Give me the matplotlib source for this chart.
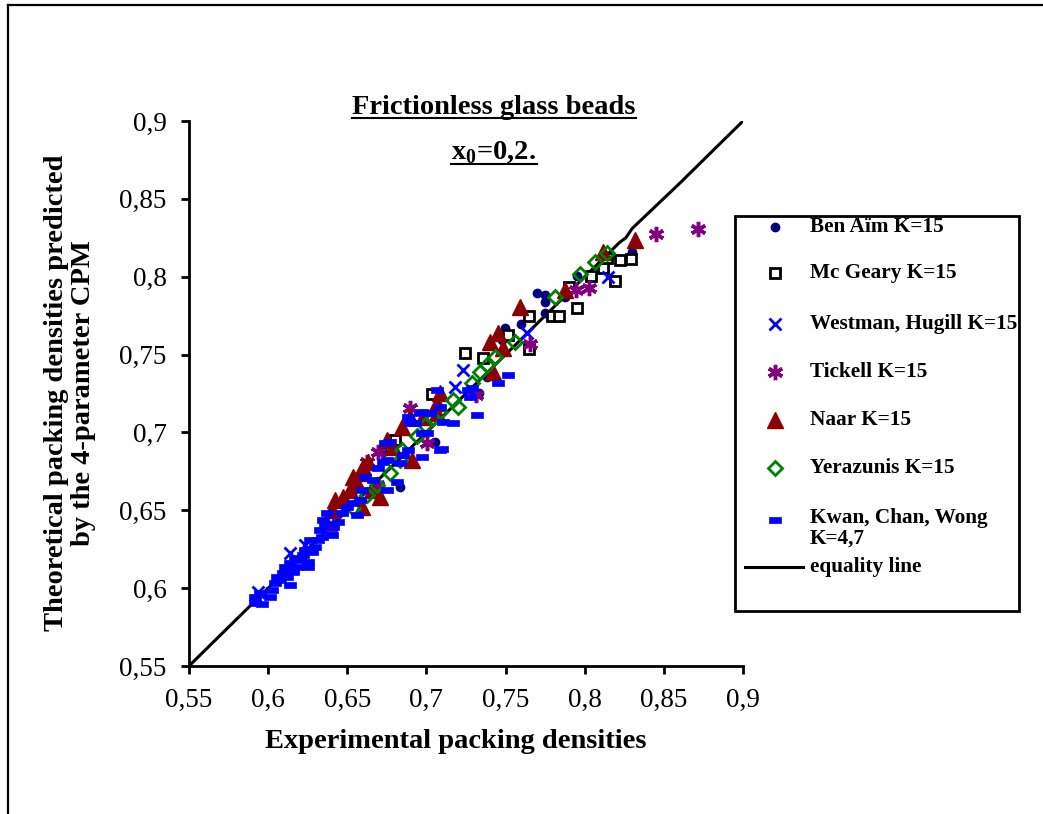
import matplotlib
matplotlib.use("Agg")
import matplotlib.pyplot as plt
from matplotlib.lines import Line2D
from matplotlib.patches import Rectangle

plt.rcParams['font.family'] = ['Liberation Serif', 'DejaVu Serif']
plt.rcParams['mathtext.fontset'] = 'custom'
plt.rcParams['mathtext.rm'] = 'Liberation Serif'
plt.rcParams['mathtext.bf'] = 'Liberation Serif:bold'

# --- data (experimental, theoretical) ---
ben_x = [0.6726, 0.6834, 0.7055, 0.7333, 0.7383, 0.7478, 0.7497, 0.7598, 0.7699, 0.7750,
         0.7750, 0.7750, 0.7876, 0.7952, 0.8237, 0.8300]
ben_y = [0.6874, 0.6649, 0.6938, 0.7253, 0.7355, 0.7593, 0.7670, 0.7696, 0.7895, 0.7882,
         0.7837, 0.7766, 0.7869, 0.8004, 0.8107, 0.8158]

mcg_x = [0.6802, 0.7036, 0.7244, 0.7358, 0.7516, 0.7649, 0.7649, 0.7794, 0.7838, 0.7952,
         0.7902, 0.8041, 0.8116, 0.8142, 0.8192, 0.8224, 0.8293]
mcg_y = [0.6951, 0.7246, 0.7509, 0.7477, 0.7625, 0.7747, 0.7535, 0.7747, 0.7747, 0.7798,
         0.7933, 0.8004, 0.8055, 0.8119, 0.7972, 0.8107, 0.8113]

west_x = [0.5936, 0.6138, 0.6233, 0.7181, 0.7232, 0.7636, 0.8148]
west_y = [0.5975, 0.6225, 0.6277, 0.7291, 0.7400, 0.7638, 0.7997]

tick_x = [0.6391, 0.6625, 0.6694, 0.6688, 0.6897, 0.7004, 0.7314, 0.7655, 0.7946, 0.8028,
          0.8451, 0.8717]
tick_y = [0.6386, 0.6810, 0.6874, 0.6662, 0.7156, 0.6932, 0.7240, 0.7567, 0.7914, 0.7927,
          0.8273, 0.8306]

naar_x = [0.6404, 0.6423, 0.6473, 0.6518, 0.6562, 0.6536, 0.6581, 0.6600, 0.6631, 0.6657,
          0.6593, 0.6707, 0.6751, 0.6789, 0.6909, 0.6846, 0.6897, 0.6979, 0.7067, 0.7086,
          0.7067, 0.7402, 0.7453, 0.7484, 0.7592, 0.7421, 0.7876, 0.8116, 0.8319]
naar_y = [0.6502, 0.6566, 0.6585, 0.6630, 0.6675, 0.6713, 0.6739, 0.6778, 0.6810, 0.6630,
          0.6521, 0.6585, 0.6951, 0.6906, 0.6823, 0.7034, 0.7099, 0.7099, 0.7124, 0.7253,
          0.7188, 0.7580, 0.7638, 0.7542, 0.7805, 0.7387, 0.7914, 0.8158, 0.8235]

yer_x = [0.6536, 0.6625, 0.6688, 0.6770, 0.6834, 0.6846, 0.6941, 0.6992, 0.7042, 0.7086,
         0.7168, 0.7200, 0.7289, 0.7339, 0.7383, 0.7434, 0.7560, 0.7813, 0.7971, 0.8066,
         0.8142]
yer_y = [0.6514, 0.6598, 0.6662, 0.6739, 0.6823, 0.6887, 0.6977, 0.7047, 0.7092, 0.7131,
         0.7208, 0.7163, 0.7317, 0.7387, 0.7432, 0.7484, 0.7580, 0.7869, 0.8017, 0.8094,
         0.8151]

kwan_x = [0.5917, 0.5961, 0.5917, 0.5949, 0.6012, 0.6025, 0.6044, 0.6075, 0.6056, 0.6094,
          0.6119, 0.6138, 0.6157, 0.6107, 0.6138, 0.6183, 0.6170, 0.6202, 0.6220, 0.6252,
          0.6252, 0.6233, 0.6277, 0.6296, 0.6265, 0.6315, 0.6341, 0.6328, 0.6360, 0.6347,
          0.6372, 0.6404, 0.6410, 0.6442, 0.6467, 0.6499, 0.6562, 0.6536, 0.6581, 0.6593,
          0.6612, 0.6663, 0.6694, 0.6726, 0.6751, 0.6739, 0.6770, 0.6751, 0.6815, 0.6834,
          0.6852, 0.6884, 0.6897, 0.6960, 0.7004, 0.7023, 0.7067, 0.7086, 0.7086, 0.7168,
          0.6973, 0.6884, 0.6928, 0.6973, 0.7105, 0.7263, 0.7276, 0.7320, 0.7453, 0.7516,
          0.7289, 0.7099, 0.6973]
kwan_y = [0.5904, 0.5898, 0.5943, 0.5969, 0.5943, 0.5988, 0.6033, 0.6052, 0.6071, 0.6097,
          0.6071, 0.6020, 0.6103, 0.6136, 0.6161, 0.6136, 0.6193, 0.6181, 0.6213, 0.6136,
          0.6168, 0.6245, 0.6232, 0.6264, 0.6309, 0.6309, 0.6328, 0.6373, 0.6405, 0.6437,
          0.6482, 0.6341, 0.6392, 0.6424, 0.6482, 0.6521, 0.6469, 0.6546, 0.6566, 0.6630,
          0.6713, 0.6694, 0.6771, 0.6810, 0.6630, 0.6932, 0.6938, 0.6823, 0.6681, 0.6803,
          0.6855, 0.6887, 0.7060, 0.7124, 0.6996, 0.7124, 0.7272, 0.7163, 0.6887, 0.7060,
          0.6842, 0.7099, 0.7060, 0.7131, 0.7066, 0.7272, 0.7227, 0.7111, 0.7317, 0.7368,
          0.7285, 0.6893, 0.6996]

eq_x = [0.55, 0.76, 0.80, 0.822, 0.826, 0.830, 0.86, 0.90]
eq_y = [0.55, 0.76, 0.80, 0.822, 0.825, 0.831, 0.86, 0.90]

ticks = [0.55, 0.6, 0.65, 0.7, 0.75, 0.8, 0.85, 0.9]
tick_labels = ['0,55', '0,6', '0,65', '0,7', '0,75', '0,8', '0,85', '0,9']

dash = [(-1, -0.55), (1, -0.55), (1, 0.55), (-1, 0.55), (-1, -0.55)]

# (label, x, y, style)
series = [
    ("Ben Aïm K=15", ben_x, ben_y, dict(marker='o', ms=6, mfc='#000080', mec='#000080')),
    ("Mc Geary K=15", mcg_x, mcg_y, dict(marker='s', ms=7, mfc='white', mec='black', mew=2)),
    ("Westman, Hugill K=15", west_x, west_y, dict(marker='x', ms=9, mec='#0000FF', mew=2)),
    ("Tickell K=15", tick_x, tick_y, dict(marker=(6, 2, 0), ms=11, mec='#800080', mew=2.5)),
    ("Naar K=15", naar_x, naar_y, dict(marker='^', ms=11, mfc='#8B0000', mec='#8B0000')),
    ("Yerazunis K=15", yer_x, yer_y, dict(marker='D', ms=7, mfc='none', mec='#008000', mew=2)),
    ("Kwan, Chan, Wong\nK=4,7", kwan_x, kwan_y, dict(marker=dash, ms=8, mfc='#0000FF', mec='#0000FF', mew=0.5)),
]

W, H = 1043, 814
fig = plt.figure(figsize=(W / 100, H / 100), dpi=100)
ax = fig.add_axes([189 / W, 1 - 666 / H, (743 - 189) / W, (666 - 121) / H])

ax.plot(eq_x, eq_y, color='black', lw=2.2, zorder=1)
for i, (lab, xs, ys, st) in enumerate(series):
    ax.plot(xs, ys, ls='none', zorder=2 + i, **st)

ax.set_xlim(0.55, 0.9)
ax.set_ylim(0.55, 0.9)
ax.set_xticks(ticks)
ax.set_xticklabels(tick_labels)
ax.set_yticks(ticks)
ax.set_yticklabels(tick_labels)
ax.spines['top'].set_visible(False)
ax.spines['right'].set_visible(False)
for s in ['left', 'bottom']:
    ax.spines[s].set_linewidth(2)
ax.tick_params(direction='out', length=6, width=2, labelsize=19.5, pad=10)

fig.text(456 / W, 1 - 741 / H, "Experimental packing densities", fontsize=20.5,
         fontweight='bold', ha='center', va='center')
fig.text(70 / W, 1 - 393 / H, "Theoretical packing densities predicted\nby the 4-parameter CPM",
         fontsize=20.5, fontweight='bold', rotation=90, ha='center', va='center',
         linespacing=1.1)

t1 = fig.text(494 / W, 1 - 107 / H, "Frictionless glass beads", fontsize=20.5,
              fontweight='bold', ha='center', va='center')
t2 = fig.text(494 / W, 1 - 153 / H, r"x$_\mathbf{0}$=0,2.", fontsize=20.5,
              fontweight='bold', ha='center', va='center')

# outer frame (only top and left visible in the original picture)
fig.add_artist(Line2D([8 / W, 8 / W], [0, 1 - 5 / H], color='black', lw=1.6))
fig.add_artist(Line2D([8 / W, 1], [1 - 5 / H, 1 - 5 / H], color='black', lw=1.6))

# legend box
fig.add_artist(Rectangle((735 / W, 1 - 611 / H), (1019 - 735) / W, (611 - 216) / H,
                         transform=fig.transFigure, fill=False, ec='black', lw=2))
leg_y = [227, 273, 324, 372, 420, 468, 520]
for (lab, xs, ys, st), yy in zip(series, leg_y):
    fig.add_artist(Line2D([775 / W], [1 - yy / H], ls='none', **st))
    if "\n" in lab:
        fig.text(810 / W, 1 - 508 / H, lab, fontsize=15.3, fontweight='bold',
                 ha='left', va='top', linespacing=1.05)
    else:
        fig.text(810 / W, 1 - yy / H, lab, fontsize=15.3, fontweight='bold',
                 ha='left', va='center')
fig.add_artist(Line2D([745 / W, 803 / W], [1 - 567 / H, 1 - 567 / H], color='black', lw=2.2))
fig.text(810 / W, 1 - 567 / H, "equality line", fontsize=15.3, fontweight='bold',
         ha='left', va='center')

# underline the two title lines
fig.canvas.draw()
r = fig.canvas.get_renderer()
for t in (t1, t2):
    bb = t.get_window_extent(r)
    yl = (bb.y0 + 2) / H
    fig.add_artist(Line2D([bb.x0 / W, bb.x1 / W], [yl, yl], color='black', lw=1.5))

fig.savefig("out.png", dpi=100)
